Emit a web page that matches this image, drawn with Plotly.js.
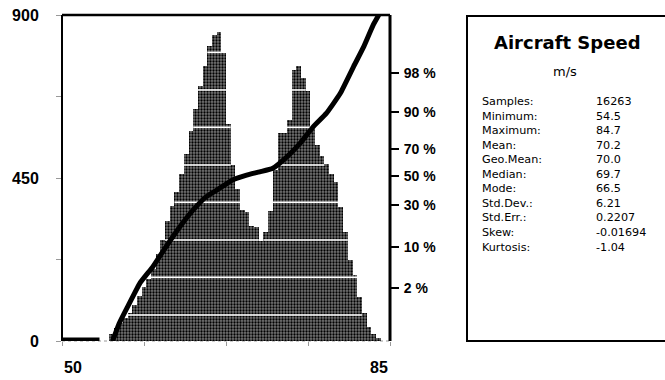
<!DOCTYPE html>
<html>
<head>
<meta charset="utf-8">
<script src="https://cdn.plot.ly/plotly-3.0.1.min.js"></script>
<style>
html,body{margin:0;padding:0;background:#fff;}
#chart{width:665px;height:380px;}
</style>
</head>
<body>
<div id="chart"></div>
<script>
// ---- Data ----
const speedBins = [55.25,55.75,56.25,56.75,57.25,57.75,58.25,58.75,59.25,59.75,
  60.25,60.75,61.25,61.75,62.25,62.75,63.25,63.75,64.25,64.75,
  65.25,65.75,66.25,66.75,67.25,67.75,68.25,68.75,69.25,69.75,
  70.25,70.75,71.25,71.75,72.25,72.75,73.25,73.75,74.25,74.75,
  75.25,75.75,76.25,76.75,77.25,77.75,78.25,78.75,79.25,79.75,
  80.25,80.75,81.25,81.75,82.25,82.75,83.25,83.75];
const binCounts = [20,35,50,64,78,100,125,150,172,200,
  240,280,330,372,410,462,515,580,640,705,
  760,815,845,852,795,600,485,420,362,355,
  318,315,275,300,358,472,573,575,610,748,
  760,725,690,585,540,512,490,462,440,370,
  300,225,182,122,76,40,20,8];
const binWidth = 0.5;
// white banding levels visible across the histogram
const bandLevels = [72,176,279,383,486,590,693,797];

// cumulative curve (x in m/s, position on right probability scale 0..100)
const zeroRunX = [50, 54.0];
const zeroRunPos = [0, 0];
const cumX   = [55.4,56.1,57.2,58.3,59.7,61.1,62.6,64.0,65.4,66.8,68.2,69.7,71.1,72.5,74.0,75.4,76.8,78.2,79.7,81.1,82.2,83.2,83.8];
const cumPos = [0,5.4,11.6,17.7,22.8,28.9,35.1,40.2,44.3,46.8,49.4,50.9,51.9,53.0,56.5,60.6,65.7,69.8,76.0,84.1,90.3,96.9,100];

// right axis (probability scale) ticks
const pctLabels = ['98 %','90 %','70 %','50 %','30 %','10 %','2 %'];
const pctPos    = [82.1,70.3,58.8,50.6,41.7,28.9,16.2];

// left / bottom axes
const countTicks = [0,225,450,675,900];
const countLabels = ['0','','450','','900'];
const speedTicks = [50,58.75,67.5,76.25,85];
const speedLabels = ['50','85'];
const speedLabelVals = [50,85];

// stats box
const statsTitle = 'Aircraft Speed';
const statsUnit = 'm/s';
const statLabels = ['Samples:','Minimum:','Maximum:','Mean:','Geo.Mean:','Median:','Mode:','Std.Dev.:','Std.Err.:','Skew:','Kurtosis:'];
const statValues = ['16263','54.5','84.7','70.2','70.0','69.7','66.5','6.21','0.2207','-0.01694','-1.04'];

// ---- Layout geometry ----
const W = 665, H = 380;
const mL = 62, mR = 275, mT = 15, mB = 39;
const pw = W - mL - mR, ph = H - mT - mB;
const px2x = p => (p - mL) / pw;
const py2y = p => (H - mB - p) / ph;

// white band segments built from the histogram data
const bandX = [], bandY = [];
bandLevels.forEach(L => {
  let inRun = false;
  for (let i = 0; i < speedBins.length; i++) {
    const above = binCounts[i] > L + 4;
    if (above && !inRun) { bandX.push(speedBins[i] - binWidth/2); bandY.push(L); inRun = true; }
    if (!above && inRun) { bandX.push(speedBins[i-1] + binWidth/2, null); bandY.push(L, null); inRun = false; }
  }
  if (inRun) { const k = speedBins.length-1; bandX.push(speedBins[k] + binWidth/2, null); bandY.push(L, null); }
});

const traces = [
  {
    type: 'bar', x: speedBins, y: binCounts, width: binWidth,
    marker: {
      color: '#707070',
      line: {width: 0},
      pattern: {shape: '.', fgcolor: '#000', bgcolor: '#767676', size: 3, solidity: 0.45, fillmode: 'replace'}
    },
    hoverinfo: 'skip', showlegend: false
  },
  {
    type: 'scatter', mode: 'lines', x: bandX, y: bandY,
    line: {color: '#fff', width: 1.5}, hoverinfo: 'skip', showlegend: false
  },
  {
    type: 'scatter', mode: 'lines', x: zeroRunX, y: zeroRunPos, yaxis: 'y2',
    line: {color: '#000', width: 7}, hoverinfo: 'skip', showlegend: false
  },
  {
    type: 'scatter', mode: 'lines', x: cumX, y: cumPos, yaxis: 'y2',
    line: {color: '#000', width: 5, shape: 'spline', smoothing: 0.4},
    hoverinfo: 'skip', showlegend: false
  }
];

const lblFont = {family: 'Liberation Sans, Arial, sans-serif', size: 16, color: '#000', weight: 'bold'};
const statFont = {family: 'DejaVu Sans, sans-serif', size: 11.2, color: '#000'};

const annotations = [];
speedLabels.forEach((t, i) => {
  annotations.push({xref: 'x', yref: 'paper', x: speedLabelVals[i], y: py2y(367),
    text: t, showarrow: false, xanchor: i === 0 ? 'left' : 'right', yanchor: 'middle', font: lblFont});
});
annotations.push({xref: 'paper', yref: 'paper', x: px2x(567), y: py2y(43), text: statsTitle,
  showarrow: false, xanchor: 'center', yanchor: 'middle',
  font: {family: 'DejaVu Sans, sans-serif', size: 18, color: '#000', weight: 'bold'}});
annotations.push({xref: 'paper', yref: 'paper', x: px2x(565), y: py2y(71), text: statsUnit,
  showarrow: false, xanchor: 'center', yanchor: 'middle',
  font: {family: 'DejaVu Sans, sans-serif', size: 13, color: '#000'}});
const midRow = py2y((101.7 + 246.7) / 2);
annotations.push({xref: 'paper', yref: 'paper', x: px2x(480), y: midRow, text: statLabels.join('<br>'),
  showarrow: false, xanchor: 'left', yanchor: 'middle', align: 'left', font: statFont});
annotations.push({xref: 'paper', yref: 'paper', x: px2x(594), y: midRow, text: statValues.join('<br>'),
  showarrow: false, xanchor: 'left', yanchor: 'middle', align: 'left', font: statFont});

const shapes = [
  // plot frame
  {type: 'line', xref: 'paper', yref: 'paper', x0: 0, x1: 0, y0: 0, y1: 1, line: {color: '#000', width: 2}, layer: 'above'},
  {type: 'line', xref: 'paper', yref: 'paper', x0: 0, x1: 1, y0: 1, y1: 1, line: {color: '#000', width: 2.5}, layer: 'above'},
  {type: 'line', xref: 'paper', yref: 'paper', x0: 1, x1: 1, y0: 0, y1: 1, line: {color: '#000', width: 3}, layer: 'above'},
  {type: 'line', xref: 'paper', yref: 'paper', x0: 0, x1: 1, y0: 0, y1: 0, line: {color: '#999', width: 1, dash: 'dot'}, layer: 'below'},
  // stats box
  {type: 'rect', xref: 'paper', yref: 'paper', x0: px2x(467), x1: px2x(700), y0: py2y(341), y1: py2y(16),
    line: {color: '#000', width: 2}, fillcolor: 'rgba(0,0,0,0)'}
];

const layout = {
  width: W, height: H,
  margin: {l: mL, r: mR, t: mT, b: mB, pad: 0},
  paper_bgcolor: '#fff', plot_bgcolor: '#fff',
  bargap: 0,
  showlegend: false,
  xaxis: {range: [50, 85], tickvals: speedTicks, ticktext: speedTicks.map(() => ''),
    ticks: 'outside', ticklen: 4, tickwidth: 1, tickcolor: '#999',
    showline: false, showgrid: false, zeroline: false, fixedrange: true},
  yaxis: {range: [0, 900], tickvals: countTicks, ticktext: countLabels,
    ticks: 'outside', ticklen: 5, tickwidth: 1, tickcolor: '#999',
    ticklabelstandoff: 14,
    tickfont: lblFont, showline: false, showgrid: false, zeroline: false, fixedrange: true},
  yaxis2: {range: [0, 100], overlaying: 'y', side: 'right', tickvals: pctPos, ticktext: pctLabels,
    ticks: 'outside', ticklen: 8, tickwidth: 2, tickcolor: '#000', ticklabelstandoff: 2,
    tickfont: {family: 'Liberation Sans, Arial, sans-serif', size: 14, color: '#000', weight: 'bold'},
    showline: false, showgrid: false, zeroline: false, fixedrange: true},
  shapes: shapes,
  annotations: annotations
};

Plotly.newPlot('chart', traces, layout, {displayModeBar: false, staticPlot: true});
</script>
</body>
</html>
